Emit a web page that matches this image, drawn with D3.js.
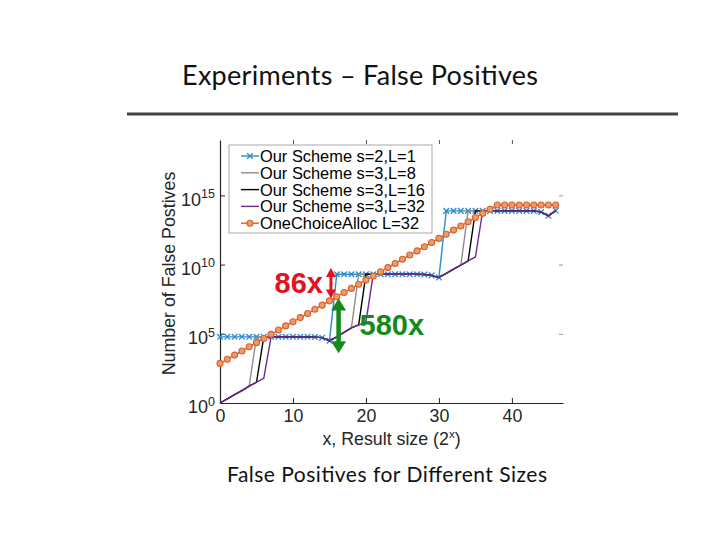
<!DOCTYPE html>
<html>
<head>
<meta charset="utf-8">
<script src="https://cdn.jsdelivr.net/npm/d3@7"></script>
<style>
  body { margin: 0; background: #fff; }
  svg { display: block; }
</style>
</head>
<body>
<svg id="chart" width="720" height="540"></svg>
<script>
// x = log2 of result size
const xValues = d3.range(0, 47);

// values are log10(number of false positives)
const ourS2L1 = [
  4.78, 4.78, 4.78, 4.78, 4.78, 4.78, 4.78, 4.78, 4.78, 4.78, 4.78, 4.78, 4.78, 4.76, 4.72, 4.49,
  9.30, 9.30, 9.30, 9.30, 9.30, 9.30, 9.30, 9.30, 9.30, 9.30, 9.30, 9.30, 9.28, 9.22, 9.06,
  13.88, 13.88, 13.88, 13.88, 13.88, 13.88, 13.88, 13.88, 13.88, 13.88, 13.88, 13.88, 13.88, 13.80, 13.52, 13.90
];
const ourS3L8 = [
  0, 0.30, 0.60, 0.90, 1.22, 4.78, 4.78, 4.78, 4.78, 4.78, 4.78, 4.78, 4.78, 4.76, 4.72, 4.49,
  4.78, 5.10, 5.42, 9.30, 9.30, 9.30, 9.30, 9.30, 9.30, 9.30, 9.30, 9.30, 9.28, 9.22, 9.06,
  9.37, 9.67, 9.96, 13.88, 13.88, 13.88, 13.88, 13.88, 13.88, 13.88, 13.88, 13.88, 13.88, 13.80, 13.52, 13.90
];
const ourS3L16 = [
  0, 0.30, 0.60, 0.90, 1.22, 1.50, 4.78, 4.78, 4.78, 4.78, 4.78, 4.78, 4.78, 4.76, 4.72, 4.49,
  4.78, 5.10, 5.42, 5.64, 9.30, 9.30, 9.30, 9.30, 9.30, 9.30, 9.30, 9.30, 9.28, 9.22, 9.06,
  9.37, 9.67, 9.96, 10.26, 13.88, 13.88, 13.88, 13.88, 13.88, 13.88, 13.88, 13.88, 13.88, 13.80, 13.52, 13.90
];
const ourS3L32 = [
  0, 0.30, 0.60, 0.90, 1.22, 1.50, 1.78, 4.78, 4.78, 4.78, 4.78, 4.78, 4.78, 4.76, 4.72, 4.49,
  4.78, 5.10, 5.42, 5.64, 5.86, 9.30, 9.30, 9.30, 9.30, 9.30, 9.30, 9.30, 9.28, 9.22, 9.06,
  9.37, 9.67, 9.96, 10.26, 10.55, 13.88, 13.88, 13.88, 13.88, 13.88, 13.88, 13.88, 13.88, 13.80, 13.52, 13.90
];
const oneChoice = [
  2.86, 3.16, 3.46, 3.76, 4.06, 4.36, 4.66, 4.96, 5.27, 5.57, 5.87, 6.17, 6.47, 6.77, 7.07, 7.38,
  7.68, 7.98, 8.28, 8.58, 8.88, 9.18, 9.48, 9.78, 10.08, 10.39, 10.69, 10.99, 11.29, 11.59, 11.89,
  12.19, 12.49, 12.79, 13.09, 13.40, 13.70, 14.00, 14.30, 14.30, 14.30, 14.30, 14.30, 14.30, 14.30, 14.30, 14.30
];

const seriesNames = [
  'Our Scheme s=2,L=1',
  'Our Scheme s=3,L=8',
  'Our Scheme s=3,L=16',
  'Our Scheme s=3,L=32',
  'OneChoiceAlloc L=32'
];
const xTicks = [0, 10, 20, 30, 40];
const yTickExps = [0, 5, 10, 15];

// annotation arrows: [x, top exponent, bottom exponent]
const arrow86 = [15.2, 9.75, 7.55];
const arrow580 = [16.25, 7.55, 3.6];

const series = [
  { name: seriesNames[0], values: ourS2L1, color: '#2b8ccc', marker: 'x' },
  { name: seriesNames[1], values: ourS3L8, color: '#8c8c8c' },
  { name: seriesNames[2], values: ourS3L16, color: '#000000' },
  { name: seriesNames[3], values: ourS3L32, color: '#6a2a96' },
  { name: seriesNames[4], values: oneChoice, color: '#d9622b', marker: 'o' }
];

const svg = d3.select('#chart');
const font = '"Liberation Sans", Arial, sans-serif';

// slide title, rule and caption
svg.append('text')
  .attr('x', 182).attr('y', 85)
  .attr('font-family', 'Lato, "Open Sans", sans-serif')
  .attr('font-size', 27)
  .attr('textLength', 356)
  .attr('fill', '#111')
  .text('Experiments – False Positives');

svg.append('line')
  .attr('x1', 127).attr('x2', 678).attr('y1', 114).attr('y2', 114)
  .attr('stroke', '#444').attr('stroke-width', 3.2);

svg.append('text')
  .attr('x', 227).attr('y', 482)
  .attr('font-family', 'Lato, "Open Sans", sans-serif')
  .attr('font-size', 21)
  .attr('textLength', 320)
  .attr('fill', '#111')
  .text('False Positives for Different Sizes');

// plot area
const plotLeft = 220, plotRight = 563, plotTop = 140, plotBottom = 403;

const x = d3.scaleLinear().domain([0, 47]).range([plotLeft, plotRight]);
const y = d3.scaleLog().domain([1, 1e19]).range([plotBottom, plotTop]);
const yv = e => y(Math.pow(10, e));

// top and right ticks (box)
svg.append('g')
  .attr('transform', `translate(0,${plotTop})`)
  .call(d3.axisTop(x).tickValues(xTicks.slice(1)).tickSize(-4).tickSizeOuter(0).tickFormat(''))
  .call(g => g.select('.domain').remove())
  .call(g => g.selectAll('line').attr('stroke', '#555'));

svg.append('g')
  .attr('transform', `translate(${plotRight},0)`)
  .call(d3.axisRight(y).tickValues(yTickExps.slice(1).map(e => Math.pow(10, e))).tickSize(-4).tickSizeOuter(0).tickFormat(''))
  .call(g => g.select('.domain').remove())
  .call(g => g.selectAll('line').attr('stroke', '#999'));

// bottom axis
const xAxis = svg.append('g')
  .attr('transform', `translate(0,${plotBottom})`)
  .call(d3.axisBottom(x).tickValues(xTicks).tickSize(-5).tickSizeOuter(0).tickPadding(6));
xAxis.select('.domain').attr('stroke', '#262626').attr('stroke-width', 1.2);
xAxis.selectAll('line').attr('stroke', '#262626');
xAxis.selectAll('text')
  .attr('font-family', font).attr('font-size', 17.8).attr('fill', '#262626');

// left axis
const yAxis = svg.append('g')
  .attr('transform', `translate(${plotLeft},0)`)
  .call(d3.axisLeft(y).tickValues(yTickExps.map(e => Math.pow(10, e))).tickSize(-5).tickSizeOuter(0).tickPadding(5));
yAxis.select('.domain').attr('stroke', '#262626').attr('stroke-width', 1.2);
yAxis.selectAll('line').attr('stroke', '#262626');
yAxis.selectAll('.tick text')
  .attr('font-family', font).attr('font-size', 18).attr('fill', '#262626')
  .attr('dy', '0.55em')
  .each(function(d, i) {
    const t = d3.select(this).text(null);
    t.append('tspan').text('10');
    t.append('tspan').attr('dy', '-0.6em').attr('font-size', 12.5).text(yTickExps[i]);
  });

// axis labels
svg.append('text')
  .attr('x', (plotLeft + plotRight) / 2).attr('y', 445)
  .attr('text-anchor', 'middle')
  .attr('font-family', font).attr('font-size', 17.8).attr('fill', '#262626')
  .call(t => {
    t.append('tspan').text('x, Result size (2');
    t.append('tspan').attr('dy', -7).attr('font-size', 11.5).text('x');
    t.append('tspan').attr('dy', 7).text(')');
  });

svg.append('text')
  .attr('transform', `translate(175,${(plotTop + plotBottom) / 2 + 2}) rotate(-90)`)
  .attr('text-anchor', 'middle')
  .attr('font-family', font).attr('font-size', 17.8).attr('fill', '#262626')
  .text('Number of False Postives');

// series lines
const line = d3.line().x((d, i) => x(xValues[i])).y(d => yv(d));

function drawMarker(g, kind, cx, cy, color) {
  if (kind === 'x') {
    const s = 2.8;
    g.append('path')
      .attr('d', `M${cx - s},${cy - s}L${cx + s},${cy + s}M${cx - s},${cy + s}L${cx + s},${cy - s}`)
      .attr('stroke', color).attr('stroke-width', 1.3).attr('fill', 'none');
  } else if (kind === 'o') {
    g.append('circle')
      .attr('cx', cx).attr('cy', cy).attr('r', 3)
      .attr('fill', '#ee9a6c').attr('stroke', color).attr('stroke-width', 1.1);
  }
}

const plot = svg.append('g');
series.forEach(s => {
  plot.append('path')
    .datum(s.values)
    .attr('d', line)
    .attr('fill', 'none')
    .attr('stroke', s.color)
    .attr('stroke-width', 1.4);
  if (s.marker) {
    const mg = plot.append('g');
    s.values.forEach((v, i) => drawMarker(mg, s.marker, x(xValues[i]), yv(v), s.color));
  }
});

// legend
const legend = svg.append('g').attr('transform', 'translate(229,145)');
legend.append('rect')
  .attr('width', 203).attr('height', 88)
  .attr('fill', '#fff').attr('stroke', '#a8a8a8').attr('stroke-width', 1);
series.forEach((s, i) => {
  const ly = 11 + i * 16.8;
  legend.append('line')
    .attr('x1', 12).attr('x2', 30).attr('y1', ly).attr('y2', ly)
    .attr('stroke', s.color).attr('stroke-width', 1.4);
  if (s.marker) drawMarker(legend, s.marker, 21, ly, s.color);
  legend.append('text')
    .attr('x', 31).attr('y', ly).attr('dy', '0.36em')
    .attr('font-family', font).attr('font-size', 16.4).attr('fill', '#000')
    .text(s.name);
});

// double-headed annotation arrows
function doubleArrow(ax, e0, e1, color, headW, headH, shaftW) {
  const cx = x(ax), y0 = yv(e0), y1 = yv(e1);
  const g = svg.append('g');
  g.append('line')
    .attr('x1', cx).attr('x2', cx).attr('y1', y0 + headH - 1).attr('y2', y1 - headH + 1)
    .attr('stroke', color).attr('stroke-width', shaftW);
  g.append('path')
    .attr('d', `M${cx},${y0}L${cx - headW / 2},${y0 + headH}L${cx + headW / 2},${y0 + headH}Z`)
    .attr('fill', color);
  g.append('path')
    .attr('d', `M${cx},${y1}L${cx - headW / 2},${y1 - headH}L${cx + headW / 2},${y1 - headH}Z`)
    .attr('fill', color);
  return { cx, y0, y1 };
}

const red = doubleArrow(arrow86[0], arrow86[1], arrow86[2], '#e3121b', 10, 9, 3);
const green = doubleArrow(arrow580[0], arrow580[1], arrow580[2], '#138a1a', 15, 12, 4.5);

svg.append('text')
  .attr('x', red.cx - 8).attr('y', (red.y0 + red.y1) / 2 + 10)
  .attr('text-anchor', 'end')
  .attr('font-family', '"Liberation Sans Narrow", "Liberation Sans", sans-serif')
  .attr('font-weight', 'bold').attr('font-size', 29)
  .attr('fill', '#e3121b')
  .text('86x');

svg.append('text')
  .attr('x', green.cx + 21).attr('y', (green.y0 + green.y1) / 2 + 9)
  .attr('font-family', '"Liberation Sans Narrow", "Liberation Sans", sans-serif')
  .attr('font-weight', 'bold').attr('font-size', 29)
  .attr('fill', '#138a1a')
  .text('580x');
</script>
</body>
</html>
